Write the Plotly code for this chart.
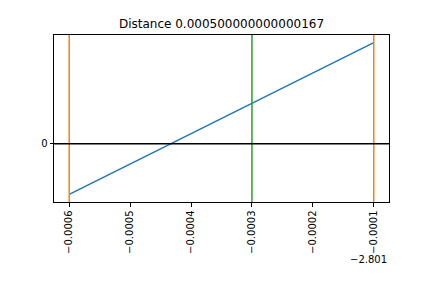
import plotly.graph_objects as go

# data (x in offset units relative to -2.801)
x_offset = -2.801
line_x = [-0.0006, -0.0001]
line_y = [-1.0, 2.0]
edge_x = [-0.0006, -0.0001]
mid_x = [-0.0003]
hline_y = [0]
xtick_vals = [-0.0006, -0.0005, -0.0004, -0.0003, -0.0002, -0.0001]
xtick_text = ["\u22120.0006", "\u22120.0005", "\u22120.0004", "\u22120.0003", "\u22120.0002", "\u22120.0001"]
title_text = "Distance 0.000500000000000167"

font = "DejaVu Sans"
fig = go.Figure()
fig.add_trace(go.Scatter(x=line_x, y=line_y, mode="lines",
                         line=dict(color="#1f77b4", width=1.5), showlegend=False))

for xv in edge_x:
    fig.add_shape(type="line", xref="x", yref="y domain", x0=xv, x1=xv, y0=0, y1=1,
                  line=dict(color="#ff7f0e", width=1.5))
for xv in mid_x:
    fig.add_shape(type="line", xref="x", yref="y domain", x0=xv, x1=xv, y0=0, y1=1,
                  line=dict(color="#2ca02c", width=1.5))
for yv in hline_y:
    fig.add_shape(type="line", xref="x domain", yref="y", x0=0, x1=1, y0=yv, y1=yv,
                  line=dict(color="black", width=1.5))

span_x = line_x[1] - line_x[0]
span_y = line_y[1] - line_y[0]
fig.update_layout(
    width=432, height=288,
    margin=dict(l=54, r=43, t=35, b=86),
    paper_bgcolor="white", plot_bgcolor="white",
    font=dict(family=font, size=10, color="black"),
    title=dict(text=title_text, x=(54 + 194.5 - 27) / 432 if False else 221.5 / 432,
               xanchor="center", y=1 - 24 / 288, yanchor="middle",
               font=dict(family=font, size=12, color="black")),
    xaxis=dict(range=[line_x[0] - 0.05 * span_x, line_x[1] + 0.05 * span_x],
               tickvals=xtick_vals, ticktext=xtick_text, tickangle=-90,
               showgrid=False, zeroline=False, showline=True, mirror=True,
               linecolor="black", linewidth=1, ticks="outside", ticklen=3.5,
               tickwidth=1, tickcolor="black", tickfont=dict(family=font, size=10)),
    yaxis=dict(range=[line_y[0] - 0.05 * span_y, line_y[1] + 0.05 * span_y],
               tickvals=[0], ticktext=["0"],
               showgrid=False, zeroline=False, showline=True, mirror=True,
               linecolor="black", linewidth=1, ticks="outside", ticklen=3.5,
               tickwidth=1, tickcolor="black", tickfont=dict(family=font, size=10)),
)
fig.add_annotation(text="\u2212" + f"{abs(x_offset):.3f}", xref="paper", yref="paper",
                   x=1, y=-57 / 167, xanchor="right", yanchor="middle",
                   showarrow=False, font=dict(family=font, size=10, color="black"))

fig.write_html("out.html")
